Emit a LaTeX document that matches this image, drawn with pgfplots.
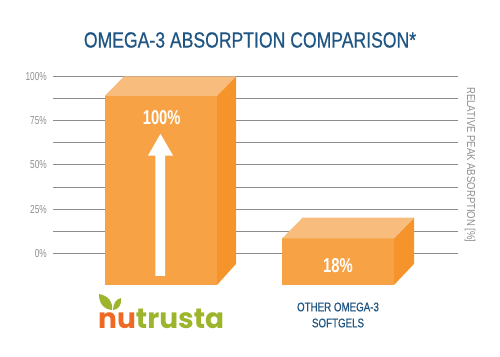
\documentclass[border=0pt]{standalone}
\usepackage{pgfplots}
\pgfplotsset{compat=1.18}
\usepackage{fontspec}
\setmainfont{Liberation Sans}
\newfontfamily\cond[FakeStretch=0.72]{Liberation Sans}
\newfontfamily\condrt[FakeStretch=0.83]{Liberation Sans}
\newfontfamily\condtitle[FakeStretch=0.80,FakeBold=0.6]{Liberation Sans}
\newfontfamily\condlab[FakeStretch=0.78,FakeBold=0.6]{Liberation Sans}
\newfontfamily\condnum[FakeStretch=0.74]{Liberation Sans Bold}
\newfontfamily\logofont{Poppins}
\definecolor{front}{HTML}{F7A345}
\definecolor{side}{HTML}{F6942C}
\definecolor{topf}{HTML}{F8BD7C}
\definecolor{navy}{HTML}{1F5582}
\definecolor{gridc}{HTML}{8C8C8C}
\definecolor{tick}{HTML}{8E8E8E}
\definecolor{lgreen}{HTML}{9DB52C}
\definecolor{lorange}{HTML}{EE6A24}
\begin{document}
\begin{tikzpicture}[x=1pt,y=1pt]
\path (0,0) rectangle (500,356);
\begin{axis}[
  at={(53pt,102.7pt)}, anchor=south west,
  scale only axis, width=405pt, height=177pt,
  xmin=53, xmax=458, ymin=0, ymax=100,
  clip=false, axis line style={draw=none},
  xtick=\empty,
  ytick={0,25,50,75,100},
  yticklabel style={font=\cond\fontsize{11.5}{12}\selectfont, text=tick, inner sep=0pt, xshift=-6pt},
  yticklabel={\pgfmathprintnumber[assume math mode=true]{\tick}\%},
  minor ytick={12.5,37.5,62.5,87.5},
  tick style={draw=none},
  ymajorgrids, yminorgrids,
  major grid style={draw=gridc,line width=0.8pt},
  minor grid style={draw=gridc,line width=0.8pt},
  axis on top=false,
]
% tall bar
\addplot[draw=none,fill=front] coordinates {(105,-17.9)(217,-17.9)(217,89)(105,89)} -- cycle;
\addplot[draw=none,fill=side] coordinates {(217,-17.9)(236,-6)(236,100)(217,89)} -- cycle;
\addplot[draw=none,fill=topf] coordinates {(105,89)(217,89)(236,100)(124,100)} -- cycle;
% arrow
\addplot[draw=none,fill=white] coordinates {(155.3,-12.8)(165,-12.8)(165,55.2)(173,55.2)(160.5,67.5)(148,55.2)(155.3,55.2)} -- cycle;
% short bar
\addplot[draw=none,fill=front] coordinates {(282.3,-17.9)(394,-17.9)(394,8.5)(282.3,8.5)} -- cycle;
\addplot[draw=none,fill=side] coordinates {(394,-17.9)(414,-6)(414,20.1)(394,8.5)} -- cycle;
\addplot[draw=none,fill=topf] coordinates {(282.3,8.5)(394,8.5)(414,20.1)(302.5,20.1)} -- cycle;
\end{axis}
% all following coordinates are in image pixels with y flipped
\node[text=navy,font=\condtitle\fontsize{22}{24}\selectfont] at (250,356-40) {OMEGA-3 ABSORPTION COMPARISON*};
\node[text=white,font=\condnum\fontsize{20}{22}\selectfont] at (161.7,356-117.7) {100\%};
\node[text=white,font=\condnum\fontsize{20}{22}\selectfont] at (338,356-266) {18\%};
\node[text=tick,rotate=-90,font=\condrt\fontsize{11.5}{12}\selectfont] at (470,356-165) {RELATIVE PEAK ABSORPTION [\%]};
\node[text=navy,align=center,font=\condlab\fontsize{12.5}{16}\selectfont] at (338,356-315) {OTHER OMEGA-3\\SOFTGELS};
% logo
\node[anchor=base west,inner sep=0pt,font=\logofont\bfseries\fontsize{28}{30}\selectfont] at (98,356-328) {\textcolor{lorange}{nu}\textcolor{lgreen}{trusta}};
\fill[lgreen] (99,356-294) .. controls (109,356-296) and (113,356-302) .. (112,356-310) .. controls (103,356-309) and (99,356-303) .. (99,356-294) -- cycle;
\fill[lgreen] (121,356-298) .. controls (122,356-305) and (118,356-310) .. (113,356-310) .. controls (113,356-304) and (116,356-299) .. (121,356-298) -- cycle;
\end{tikzpicture}
\end{document}
